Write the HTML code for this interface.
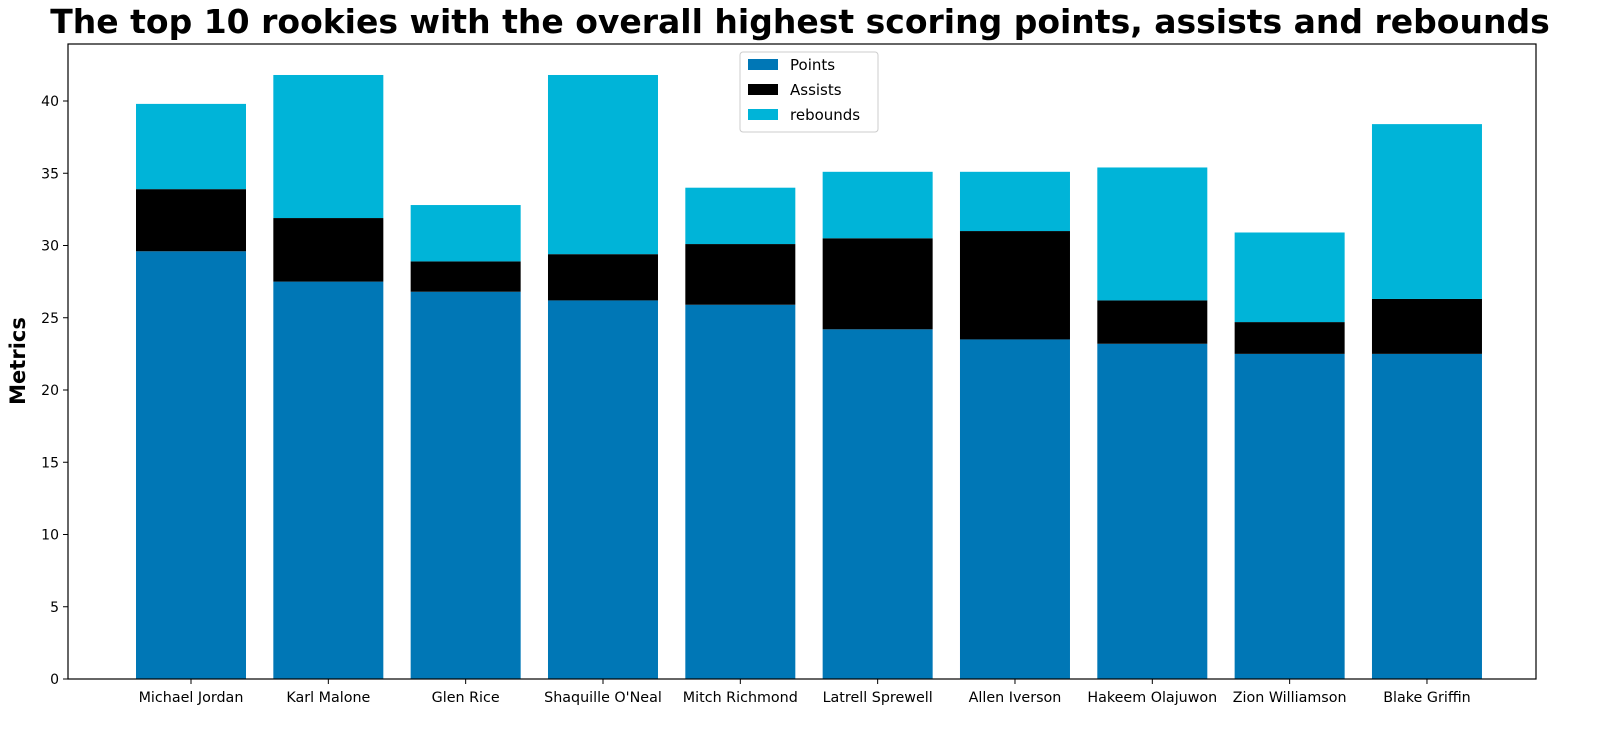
<!DOCTYPE html>
<html><head><meta charset="utf-8">
<style>
body{margin:0;background:#fff;}
svg{display:block;font-family:"Liberation Sans","DejaVu Sans",sans-serif;}
</style></head>
<body>
<svg id="chart" width="1615" height="730">
<text x="800" y="33" text-anchor="middle" font-size="33" font-weight="bold" font-family="'DejaVu Sans',sans-serif">The top 10 rookies with the overall highest scoring points, assists and rebounds</text>
<text transform="translate(25,361) rotate(-90)" text-anchor="middle" font-size="21" font-weight="bold" font-family="'DejaVu Sans',sans-serif">Metrics</text>
<g id="bars"></g>
<g id="yticks"></g>
<g id="xticks"></g>
<rect x="68" y="44" width="1468" height="635" fill="none" stroke="#000" stroke-width="1.2"/>
<g>
<rect x="740" y="52" width="138" height="80" fill="#fff" stroke="#ccc" rx="3"/>
<rect x="748" y="59" width="30" height="11" fill="#0077b6"/>
<text x="790" y="70" font-size="15" font-family="'DejaVu Sans',sans-serif">Points</text>
<rect x="748" y="84" width="30" height="11" fill="#000"/>
<text x="790" y="95" font-size="15" font-family="'DejaVu Sans',sans-serif">Assists</text>
<rect x="748" y="109" width="30" height="11" fill="#00b4d8"/>
<text x="790" y="120" font-size="15" font-family="'DejaVu Sans',sans-serif">rebounds</text>
</g>
</svg>
<script>
const players=["Michael Jordan","Karl Malone","Glen Rice","Shaquille O'Neal","Mitch Richmond","Latrell Sprewell","Allen Iverson","Hakeem Olajuwon","Zion Williamson","Blake Griffin"];
const points=[29.6,27.5,26.8,26.2,25.9,24.2,23.5,23.2,22.5,22.5];
const assists=[4.3,4.4,2.1,3.2,4.2,6.3,7.5,3.0,2.2,3.8];
const rebounds=[5.9,9.9,3.9,12.4,3.9,4.6,4.1,9.2,6.2,12.1];
const yTicks=[0,5,10,15,20,25,30,35,40];
const NS="http://www.w3.org/2000/svg";
const yScale=v=>679-v*14.45;
const xCenter=i=>191+i*137.33;
const bw=110;
const bars=document.getElementById('bars');
function mk(tag,attrs,parent){const e=document.createElementNS(NS,tag);for(const k in attrs)e.setAttribute(k,attrs[k]);parent.appendChild(e);return e;}
players.forEach((p,i)=>{
  const segs=[[0,points[i],'#0077b6','points'],[points[i],assists[i],'#000000','assists'],[points[i]+assists[i],rebounds[i],'#00b4d8','rebounds']];
  segs.forEach(s=>{
    const r=mk('rect',{x:xCenter(i)-bw/2,y:yScale(s[0]+s[1]),width:bw,height:yScale(s[0])-yScale(s[0]+s[1]),fill:s[2]},bars);
    
    
  });
  const xt=document.getElementById('xticks');
  mk('line',{x1:xCenter(i),x2:xCenter(i),y1:679,y2:684,stroke:'#000'},xt);
  const t=mk('text',{x:xCenter(i),y:702,'text-anchor':'middle','font-size':'14.3','font-family':"'DejaVu Sans',sans-serif"},xt);
  t.textContent=p;
  
  
});
const yt=document.getElementById('yticks');
yTicks.forEach(v=>{
  mk('line',{x1:63,x2:68,y1:yScale(v),y2:yScale(v),stroke:'#000'},yt);
  const t=mk('text',{x:59,y:yScale(v)+5,'text-anchor':'end','font-size':'14','font-family':"'DejaVu Sans',sans-serif"},yt);
  t.textContent=v;
  
  
});
</script>
</body></html>
